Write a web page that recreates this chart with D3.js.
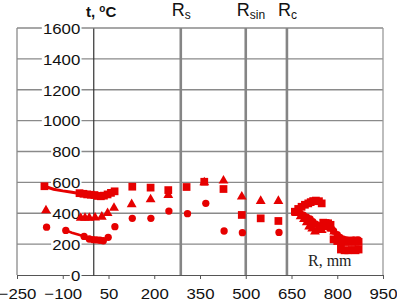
<!DOCTYPE html>
<html>
<head>
<meta charset="utf-8">
<script src="https://cdn.jsdelivr.net/npm/d3@7"></script>
<style>
  body { margin: 0; background: #fff; }
  text { font-family: "Liberation Sans", Arial, sans-serif; }
</style>
</head>
<body>
<div id="chart"></div>
<script>
const xTicks = [-250, -100, 50, 200, 350, 500, 650, 800, 950];
const yTicks = [0, 200, 400, 600, 800, 1000, 1200, 1400, 1600];
const zoneSubs = ['s', 'sin', 'c'];
const zoneRadii = [287, 500, 635];

// squares
const squareR = [-160, -45, -32, -20, -8, 4, 15, 25, 35, 47, 58, 70,
  128, 188, 246, 306, 364, 427, 487, 549, 607,
  661, 672, 683, 694, 705, 713, 721, 730, 740, 749, 754, 762, 770, 778,
  788, 800, 812, 824, 836, 848, 860, 870, 812, 824, 836, 848, 860, 870];
const squareT = [575, 530, 526, 522, 520, 518, 512, 510, 514, 522, 532, 542,
  572, 566, 550, 570, 604, 557, 389, 367, 350,
  410, 428, 442, 455, 464, 472, 479, 482, 478, 464, 339, 337, 335, 325,
  231, 220, 210, 214, 216, 214, 216, 214, 165, 160, 160, 162, 160, 165];
const squareTailR = [-160, -130, -100, -75, -50];
const squareTailT = [575, 556, 545, 537, 530];

// triangles
const triangleR = [-155, -41, -27, -13, 6, 28, 47, 68,
  126, 188, 246, 364, 427, 487, 549, 607,
  667, 680, 691, 700, 708, 718, 727, 738, 749, 760, 770, 780, 790];
const triangleT = [418, 370, 370, 370, 371, 377, 401, 434,
  458, 490, 518, 600, 611, 507, 479, 479,
  400, 380, 361, 340, 313, 300, 280, 300, 291, 310, 318, 300, 280];

// circles
const circleR = [-153, -90, -30, -13, 0, 11, 22, 33, 49, 71,
  128, 189, 248, 309, 369, 429, 489, 609,
  667, 678, 689, 700, 711, 720, 730, 745, 760, 775, 788, 800, 809, 820, 831, 842, 853, 862, 869];
const circleT = [310, 289, 250, 233, 229, 227, 225, 222, 244, 313,
  367, 367, 414, 397, 464, 285, 274, 276,
  414, 400, 388, 375, 363, 345, 330, 320, 320, 305, 285, 262, 244, 232, 227, 225, 227, 226, 227];
const circleTailR = [-90, -70, -50, -30];
const circleTailT = [289, 274, 262, 250];

const width = 397, height = 301;
const plot = {left: 17, right: 383, top: 28, bottom: 275};
const red = '#e60000';

const svg = d3.select('#chart')
  .append('svg')
    .attr('width', width)
    .attr('height', height);

const x = d3.scaleLinear().domain([-250, 950]).range([plot.left, plot.right]);
const y = d3.scaleLinear().domain([0, 1600]).range([plot.bottom, plot.top]);

// horizontal grid
svg.append('g')
  .selectAll('line')
  .data(yTicks.slice(1))
  .join('line')
    .attr('x1', plot.left)
    .attr('x2', plot.right)
    .attr('y1', d => y(d))
    .attr('y2', d => y(d))
    .attr('stroke', '#8a8a8a')
    .attr('stroke-width', 1.3);

// frame
svg.append('line')
  .attr('x1', plot.left).attr('x2', plot.left)
  .attr('y1', plot.top).attr('y2', plot.bottom)
  .attr('stroke', '#8a8a8a').attr('stroke-width', 1.3);
svg.append('line')
  .attr('x1', plot.right).attr('x2', plot.right)
  .attr('y1', plot.top).attr('y2', plot.bottom)
  .attr('stroke', '#9a9a9a').attr('stroke-width', 1.3);

// zone boundaries
svg.append('g')
  .selectAll('line')
  .data(zoneRadii)
  .join('line')
    .attr('x1', d => x(d))
    .attr('x2', d => x(d))
    .attr('y1', plot.top)
    .attr('y2', plot.bottom)
    .attr('stroke', '#858585')
    .attr('stroke-width', 2.6);

// x axis
const xAxis = svg.append('g')
  .attr('transform', `translate(0, ${plot.bottom})`)
  .call(d3.axisBottom(x).tickValues(xTicks).tickSize(4).tickSizeOuter(0));
xAxis.select('.domain').attr('stroke', '#555').attr('stroke-width', 1.2);
xAxis.selectAll('.tick line').attr('stroke', '#555');
xAxis.selectAll('.tick text')
  .attr('font-size', 15)
  .attr('fill', '#111')
  .attr('y', 13)
  .attr('transform', 'scale(1.12,1)');

// y axis at r = 0
const yAxis = svg.append('g')
  .attr('transform', `translate(${x(0)}, 0)`)
  .call(d3.axisLeft(y).tickValues(yTicks).tickSize(0).tickSizeOuter(0));
yAxis.select('.domain').attr('stroke', '#333').attr('stroke-width', 1.2);
yAxis.selectAll('.tick text').remove();
yAxis.selectAll('.tick').each(function(d) {
  const g = d3.select(this);
  const label = g.append('g').attr('transform', 'translate(-13, 0) scale(1.12,1)');
  const t = label.append('text')
    .attr('text-anchor', 'end')
    .attr('dy', '0.35em')
    .attr('font-size', 15)
    .attr('fill', '#111')
    .text(d);
  const bb = t.node().getBBox();
  label.insert('rect', 'text')
    .attr('x', bb.x - 1)
    .attr('y', bb.y + 2)
    .attr('width', bb.width + 2)
    .attr('height', bb.height - 4)
    .attr('fill', '#fff');
});

// tails
const tailLine = d3.line().x(d => x(d[0])).y(d => y(d[1]));
svg.append('path')
  .attr('d', tailLine(d3.zip(squareTailR, squareTailT)))
  .attr('fill', 'none').attr('stroke', red).attr('stroke-width', 3);
svg.append('path')
  .attr('d', tailLine(d3.zip(circleTailR, circleTailT)))
  .attr('fill', 'none').attr('stroke', red).attr('stroke-width', 2.5);

// markers
const symSquare = d3.symbol().type(d3.symbolSquare).size(60);
const symTriangle = d3.symbol().type(d3.symbolTriangle).size(42);
const symCircle = d3.symbol().type(d3.symbolCircle).size(42);

svg.append('g')
  .selectAll('path')
  .data(d3.zip(squareR, squareT))
  .join('path')
    .attr('d', symSquare)
    .attr('transform', d => `translate(${x(d[0])}, ${y(d[1])})`)
    .attr('fill', red);

svg.append('g')
  .selectAll('path')
  .data(d3.zip(triangleR, triangleT))
  .join('path')
    .attr('d', symTriangle)
    .attr('transform', d => `translate(${x(d[0])}, ${y(d[1])})`)
    .attr('fill', red);

svg.append('g')
  .selectAll('path')
  .data(d3.zip(circleR, circleT))
  .join('path')
    .attr('d', symCircle)
    .attr('transform', d => `translate(${x(d[0])}, ${y(d[1])})`)
    .attr('fill', red);

// title
const title = svg.append('text')
  .attr('x', 86)
  .attr('y', 17)
  .attr('font-size', 15)
  .attr('font-weight', 'bold')
  .attr('fill', '#111');
title.append('tspan').text('t, ');
title.append('tspan').attr('font-size', 10).attr('dy', -5).text('o');
title.append('tspan').attr('dy', 5).text('C');

// zone labels
svg.append('g')
  .selectAll('text')
  .data(zoneRadii)
  .join('text')
    .attr('x', d => x(d) - 9)
    .attr('y', 16)
    .attr('font-size', 18)
    .attr('fill', '#111')
    .each(function(d, i) {
      const t = d3.select(this);
      t.append('tspan').text('R');
      t.append('tspan').attr('font-size', 12).attr('dy', 3).text(zoneSubs[i]);
    });

// R label
svg.append('text')
  .attr('x', 308)
  .attr('y', 266)
  .style('font-family', '"Liberation Serif", "Times New Roman", serif')
  .attr('font-size', 16)
  .attr('fill', '#222')
  .text('R, mm');
</script>
</body>
</html>
